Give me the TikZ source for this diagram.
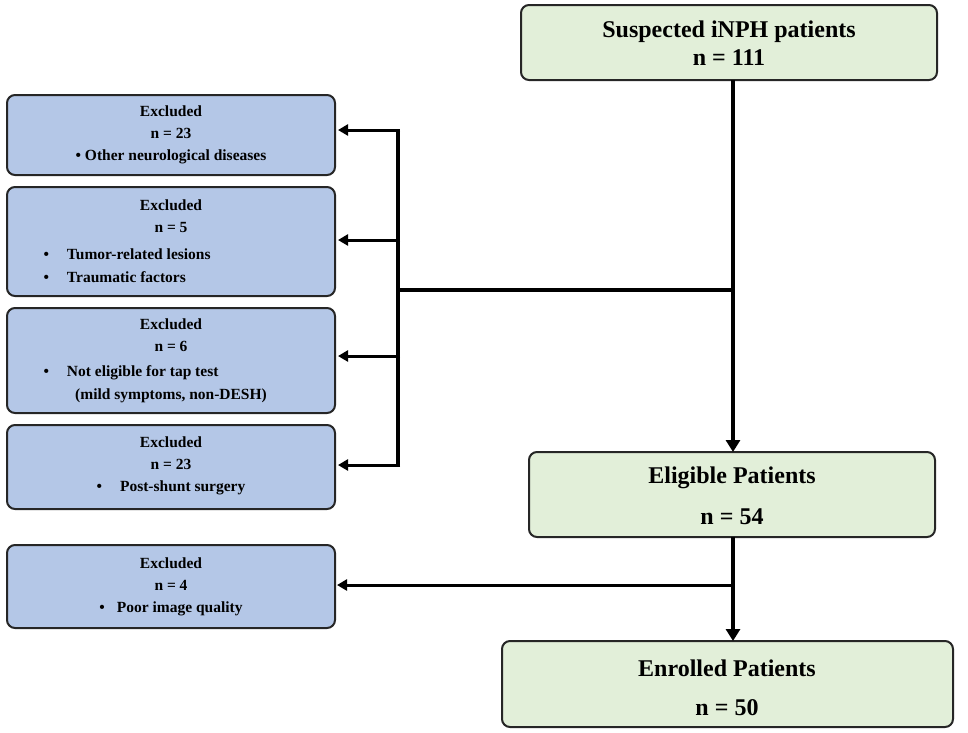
\documentclass[tikz,border=0pt]{standalone}
\usepackage{fontspec}
\setmainfont{Liberation Serif}
\usetikzlibrary{arrows.meta}
\begin{document}
\begin{tikzpicture}[x=1pt,y=-1pt,
  gbox/.style={draw=black!85,line width=2pt,rounded corners=8pt,fill=green!10!black!3!white,fill={rgb,255:red,226;green,239;blue,217}},
  bbox/.style={draw=black!85,line width=2pt,rounded corners=8pt,fill={rgb,255:red,180;green,199;blue,231}},
  big/.style={font=\bfseries\fontsize{24}{28}\selectfont,align=center},
  sm/.style={font=\bfseries\fontsize{15.5}{22}\selectfont,align=center},
  smL/.style={font=\bfseries\fontsize{15.5}{22}\selectfont,anchor=west},
  con/.style={line width=4pt},
  arr/.style={line width=4pt,-{Triangle[length=12pt,width=14pt]}},
  arrs/.style={line width=3pt,-{Triangle[length=10pt,width=11pt]}}]
\useasboundingbox (0,0) rectangle (968,732);
\draw[gbox] (521,5) rectangle (937,80);
\node[big] (top) at (729,43) {Suspected iNPH patients\\n = 111};
\draw[gbox] (529,452) rectangle (935,537);
\node[big,align=center] at (732,478) {Eligible Patients};
\node[big] at (732,517) {n = 54};
\draw[gbox] (502,641) rectangle (953,727);
\node[big] at (727,668) {Enrolled Patients};
\node[big] at (727,708) {n = 50};
\coordinate (t1) at (733,80); \coordinate (t2) at (733,452);
\coordinate (e1) at (733,537); \coordinate (e2) at (733,641);
\draw[bbox] (7,95) rectangle (335,175);
\node[sm] at (171,135) {Excluded\\n = 23\\• Other neurological diseases};
\draw[bbox] (7,187) rectangle (335,296);
\node[sm] at (171,216) {Excluded\\n = 5};
\node[smL] at (40,254) {•\hspace{18pt}Tumor-related lesions};
\node[smL] at (40,277) {•\hspace{18pt}Traumatic factors};
\draw[bbox] (7,308) rectangle (335,413);
\node[sm] at (171,335) {Excluded\\n = 6};
\node[smL] at (40,373) {•\hspace{18pt}Not eligible for tap test};
\node[sm] at (171,396) {(mild symptoms, non-DESH)};
\draw[bbox] (7,425) rectangle (335,509);
\node[sm] at (171,466) {Excluded\\n = 23\\•\hspace{18pt}Post-shunt surgery};
\draw[bbox] (7,545) rectangle (335,628);
\node[sm] at (171,587) {Excluded\\n = 4\\•\hspace{12pt}Poor image quality};
\draw[arr] (t1) -- (t2);
\draw[arr] (e1) -- (e2);
\draw[con] (733,290) -- (398,290);
\draw[con] (398,130) -- (398,465);
\coordinate (a1) at (338,130); \coordinate (a2) at (338,240);
\coordinate (a3) at (338,356); \coordinate (a4) at (338,465);
\draw[arrs] (400,130) -- (a1);
\draw[arrs] (400,240) -- (a2);
\draw[arrs] (400,356) -- (a3);
\draw[arrs] (400,465) -- (a4);
\draw[arrs] (733,585) -- (337,585);
\end{tikzpicture}
\end{document}
